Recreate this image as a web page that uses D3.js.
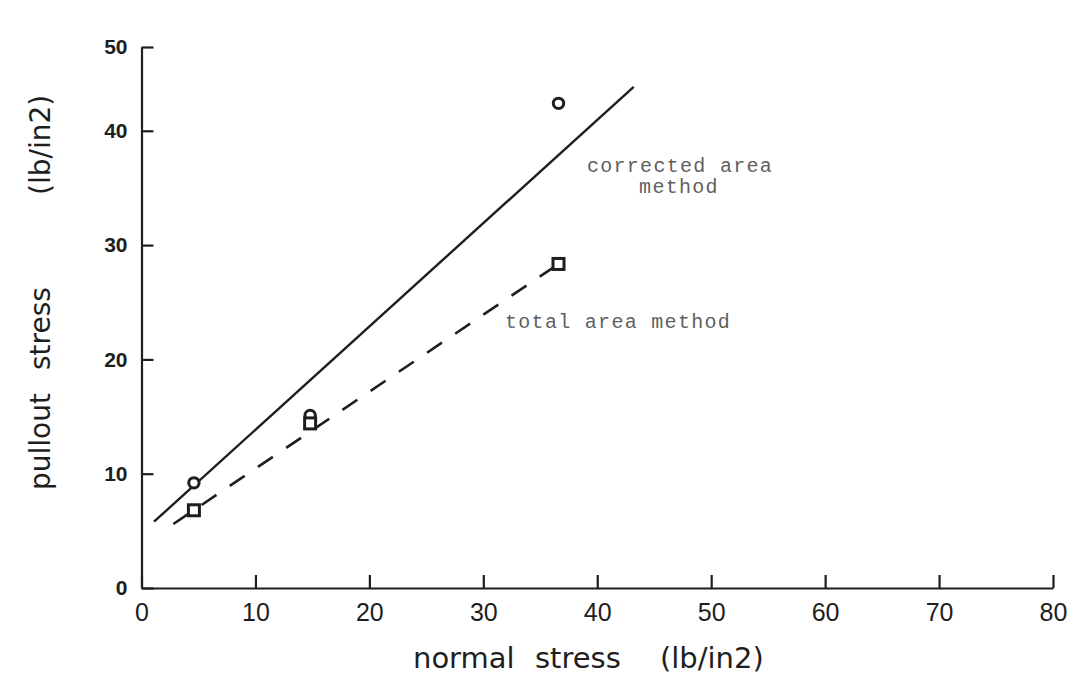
<!DOCTYPE html>
<html>
<head>
<meta charset="utf-8">
<script src="https://cdn.jsdelivr.net/npm/d3@7"></script>
<style>
  html, body { margin: 0; padding: 0; background: #fff; }
  svg { display: block; }
</style>
</head>
<body>
<svg id="chart" width="1073" height="677"></svg>
<script>
// ---- data ----
const xTickValues = [0, 10, 20, 30, 40, 50, 60, 70, 80];
const xTickLabels = ["0", "10", "20", "30", "40", "50", "60", "70", "80"];
// the printed axis ends at its top with a tick labelled "50"
const yTickValues = [0, 10, 20, 30, 40, 47.33];
const yTickLabels = ["0", "10", "20", "30", "40", "50"];

const normalStress = [4.6, 14.8, 36.6];
const correctedArea = [9.2, 15.1, 42.4];   // circles
const totalArea = [6.8, 14.4, 28.35];      // squares

const correctedFitX = [1.1, 43.2];
const correctedFitY = [5.8, 43.85];
const totalFitX = [2.8, 36.6];
const totalFitY = [5.6, 28.35];

const xTitleParts = ["normal", "stress", "(lb/in2)"];
const yTitleParts = ["pullout", "stress", "(lb/in2)"];

// ---- drawing ----
const svg = d3.select("#chart");
const x = d3.scaleLinear().domain([0, 80]).range([141.5, 1053]);
const y = d3.scaleLinear().domain([0, 47.33]).range([588, 47]);
const ink = "#1e1e1e";

const xAxis = d3.axisBottom(x)
  .tickValues(xTickValues)
  .tickFormat((d, i) => xTickLabels[i])
  .tickSizeInner(-13).tickSizeOuter(0).tickPadding(15);
const gx = svg.append("g").attr("transform", `translate(0,${y(0)})`).call(xAxis);
gx.select(".domain").attr("stroke", ink).attr("stroke-width", 2.2);
gx.selectAll(".tick line").attr("stroke", ink).attr("stroke-width", 2.2);
gx.selectAll(".tick text")
  .attr("fill", ink)
  .style("font-family", "'Liberation Sans', Arial, sans-serif")
  .style("font-size", "25px");

const yAxis = d3.axisLeft(y)
  .tickValues(yTickValues)
  .tickFormat((d, i) => yTickLabels[i])
  .tickSizeInner(-12).tickSizeOuter(0).tickPadding(14);
const gy = svg.append("g").attr("transform", `translate(${x(0)},0)`).call(yAxis);
gy.select(".domain").attr("stroke", ink).attr("stroke-width", 2.2);
gy.selectAll(".tick line").attr("stroke", ink).attr("stroke-width", 2.2);
gy.selectAll(".tick text")
  .attr("fill", ink)
  .style("font-family", "'Liberation Sans', Arial, sans-serif")
  .style("font-weight", "bold")
  .style("font-size", "21px");

// fitted lines
const line = d3.line().x(d => x(d[0])).y(d => y(d[1]));
svg.append("path")
  .datum(d3.zip(correctedFitX, correctedFitY))
  .attr("d", line)
  .attr("fill", "none").attr("stroke", ink).attr("stroke-width", 2.4);
svg.append("path")
  .datum(d3.zip(totalFitX, totalFitY))
  .attr("d", line)
  .attr("fill", "none").attr("stroke", ink).attr("stroke-width", 2.6)
  .attr("stroke-dasharray", "18,16");

// markers
svg.append("g").selectAll("circle")
  .data(d3.zip(normalStress, correctedArea))
  .join("circle")
  .attr("cx", d => x(d[0])).attr("cy", d => y(d[1]))
  .attr("r", 5.2)
  .attr("fill", "#fff").attr("stroke", ink).attr("stroke-width", 3);

const sq = 11;
svg.append("g").selectAll("rect")
  .data(d3.zip(normalStress, totalArea))
  .join("rect")
  .attr("x", d => x(d[0]) - sq / 2).attr("y", d => y(d[1]) - sq / 2)
  .attr("width", sq).attr("height", sq)
  .attr("fill", "#fff").attr("stroke", ink).attr("stroke-width", 3);

// annotations
const mono = "'Liberation Mono', 'Courier New', monospace";
const ann = svg.append("g")
  .style("font-family", mono).style("font-size", "20px")
  .style("letter-spacing", "1.3px").attr("fill", "#5f5f5f");
ann.append("text").attr("x", 680).attr("y", 172).attr("text-anchor", "middle").text("corrected area");
ann.append("text").attr("x", 679).attr("y", 193).attr("text-anchor", "middle").text("method");
ann.append("text").attr("x", 505).attr("y", 328).text("total area method");

// axis titles
const titleFont = "'DejaVu Sans', 'Noto Sans', sans-serif";
const xTitleStarts = [413, 535, 660];
const xt = svg.append("text")
  .attr("y", 668)
  .style("font-family", titleFont).style("font-size", "29px")
  .attr("fill", ink);
xt.selectAll("tspan").data(xTitleParts).join("tspan")
  .attr("x", (d, i) => xTitleStarts[i]).text(d => d);

const yTitleStarts = [490, 370, 195];
const yt = svg.append("g").attr("transform", "translate(50,0)");
yt.selectAll("text").data(yTitleParts).join("text")
  .attr("transform", (d, i) => `translate(0,${yTitleStarts[i]}) rotate(-90)`)
  .style("font-family", titleFont).style("font-size", "28px")
  .attr("fill", ink)
  .text(d => d);
</script>
</body>
</html>
